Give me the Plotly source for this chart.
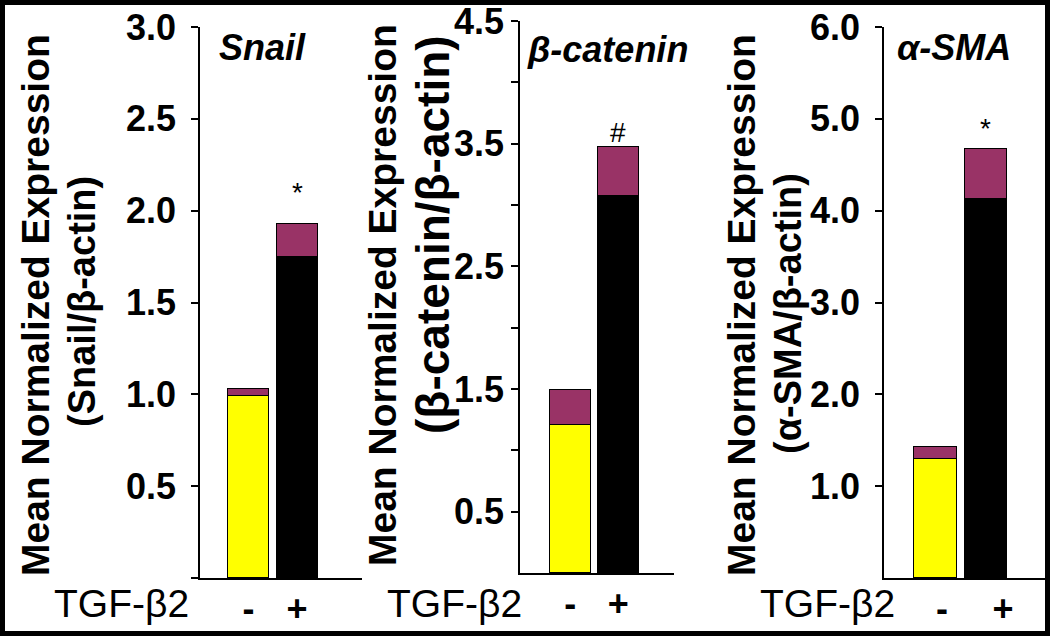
import plotly.graph_objects as go

# ---------- Data ----------
groups = ["-", "+"]
panel_titles = ["Snail", "β-catenin", "α-SMA"]
subtitles = ["(Snail/β-actin)", "(β-catenin/β-actin)", "(α-SMA/β-actin)"]

snail_mean = [0.99, 1.75]
snail_err = [0.04, 0.18]
bcat_mean = [1.21, 3.07]
bcat_err = [0.28, 0.40]
asma_mean = [1.30, 4.13]
asma_err = [0.13, 0.54]

sig_marks = ["*", "#", "*"]
sig_y = [2.10, 3.59, 4.90]

y_max = [3.0, 4.5, 6.0]
snail_ticks = [0, 0.5, 1.0, 1.5, 2.0, 2.5, 3.0]
snail_ticktext = ["", "0.5", "1.0", "1.5", "2.0", "2.5", "3.0"]
bcat_ticks = [0.5, 1.0, 1.5, 2.0, 2.5, 3.0, 3.5, 4.0, 4.5]
bcat_ticktext = ["0.5", "", "1.5", "", "2.5", "", "3.5", "", "4.5"]
asma_ticks = [1.0, 2.0, 3.0, 4.0, 5.0, 6.0]
asma_ticktext = ["1.0", "2.0", "3.0", "4.0", "5.0", "6.0"]

# ---------- Style ----------
W, H = 1050, 636
FONT = "Liberation Sans, Arial, sans-serif"
BAR_COLORS = ["#FFFF00", "#000000"]
ERR_COLOR = "#993366"

means = [snail_mean, bcat_mean, asma_mean]
errs = [snail_err, bcat_err, asma_err]
ticks = [snail_ticks, bcat_ticks, asma_ticks]
ticktexts = [snail_ticktext, bcat_ticktext, asma_ticktext]

# pixel layout of each panel (left, right, bottom, top)
px_x = [(200, 362), (520, 674), (884, 1045)]
px_y = [(578, 27), (573, 21), (578, 27)]
x_ranges = [[-1.0, 2.34], [-1.05, 2.16], [-1.02, 2.17]]
bar_w = [0.845, 0.854, 0.85]
x_tickpos = [[0, 1], [0, 1], [0.13, 1.34]]
standoff = [8, 0, 8]


def fx(px):
    return px / W


def fy(py):
    return (H - py) / H


fig = go.Figure()

for i in range(3):
    xa = "x" if i == 0 else f"x{i + 1}"
    ya = "y" if i == 0 else f"y{i + 1}"
    fig.add_trace(go.Bar(
        x=[0, 1], y=means[i], width=bar_w[i],
        marker=dict(color=BAR_COLORS, line=dict(color="black", width=1.5)),
        xaxis=xa, yaxis=ya, showlegend=False
    ))
    fig.add_trace(go.Bar(
        x=[0, 1], y=errs[i], width=bar_w[i],
        marker=dict(color=ERR_COLOR, line=dict(color="black", width=1.5)),
        xaxis=xa, yaxis=ya, showlegend=False
    ))

layout = dict(
    template="none",
    width=W, height=H,
    margin=dict(l=0, r=0, t=0, b=0, pad=0),
    paper_bgcolor="white", plot_bgcolor="white",
    barmode="stack", bargap=0,
    font=dict(family=FONT, color="black"),
    showlegend=False,
)

annotations = []
for i in range(3):
    sfx = "" if i == 0 else str(i + 1)
    layout[f"xaxis{sfx}"] = dict(
        domain=[fx(px_x[i][0]), fx(px_x[i][1])],
        anchor=f"y{sfx}", range=x_ranges[i], automargin=False,
        showline=True, linecolor="black", linewidth=1.5,
        showgrid=False, zeroline=False, ticks="",
        tickmode="array", tickvals=x_tickpos[i], ticktext=groups,
        tickfont=dict(size=36, family=FONT, weight="bold"),
        ticklabelstandoff=-2,
    )
    layout[f"yaxis{sfx}"] = dict(
        domain=[fy(px_y[i][0]), fy(px_y[i][1])],
        anchor=f"x{sfx}", range=[0, y_max[i]], automargin=False,
        showline=True, linecolor="black", linewidth=1.5,
        showgrid=False, zeroline=False, ticks="outside", ticklen=7,
        tickwidth=1.5, tickcolor="black",
        tickmode="array", tickvals=ticks[i], ticktext=ticktexts[i],
        tickfont=dict(size=36, family=FONT, weight="bold"),
        ticklabelstandoff=standoff[i],
    )
    # significance marks
    annotations.append(dict(
        x=1, y=sig_y[i], xref=f"x{sfx}", yref=f"y{sfx}",
        text=sig_marks[i], showarrow=False,
        font=dict(size=28, family=FONT), xanchor="center", yanchor="middle"
    ))

# panel titles (italic gene names)
title_pos = [(217, 47), (525, 50), (895, 48)]
for (px, py), t in zip(title_pos, panel_titles):
    annotations.append(dict(
        x=fx(px), y=fy(py), xref="paper", yref="paper", text=f"<i>{t}</i>",
        showarrow=False, xanchor="left", yanchor="middle",
        font=dict(size=36, family=FONT, weight="bold")
    ))

# y axis titles
ytitle_pos = [(36, 305), (383, 295), (742, 305)]
sub_pos = [(82, 302), (433, 235), (788, 314)]
sub_size = [38, 46, 38]
for i in range(3):
    annotations.append(dict(
        x=fx(ytitle_pos[i][0]), y=fy(ytitle_pos[i][1]), xref="paper", yref="paper",
        text="Mean Normalized Expression", textangle=-90, showarrow=False,
        xanchor="center", yanchor="middle",
        font=dict(size=39, family=FONT, weight="bold")
    ))
    annotations.append(dict(
        x=fx(sub_pos[i][0]), y=fy(sub_pos[i][1]), xref="paper", yref="paper",
        text=subtitles[i], textangle=-90, showarrow=False,
        xanchor="center", yanchor="middle",
        font=dict(size=sub_size[i], family=FONT, weight="bold")
    ))

# TGF-b2 row labels
for cx in [121, 454, 827]:
    annotations.append(dict(
        x=fx(cx), y=fy(603), xref="paper", yref="paper", text="TGF-β2",
        showarrow=False, xanchor="center", yanchor="middle",
        font=dict(size=39, family=FONT)
    ))

layout["annotations"] = annotations

# black frame around the figure
layout["shapes"] = [dict(
    type="rect", xref="paper", yref="paper",
    x0=fx(2.5), x1=fx(W - 2.5), y0=fy(H - 2.5), y1=fy(2.5),
    line=dict(color="black", width=5), fillcolor="rgba(0,0,0,0)", layer="above"
)]

fig.update_layout(**layout)
fig.write_html(
    "out.html",
    config={"displayModeBar": False},
    post_script="document.body.style.margin='0';document.body.style.overflow='hidden';"
)
